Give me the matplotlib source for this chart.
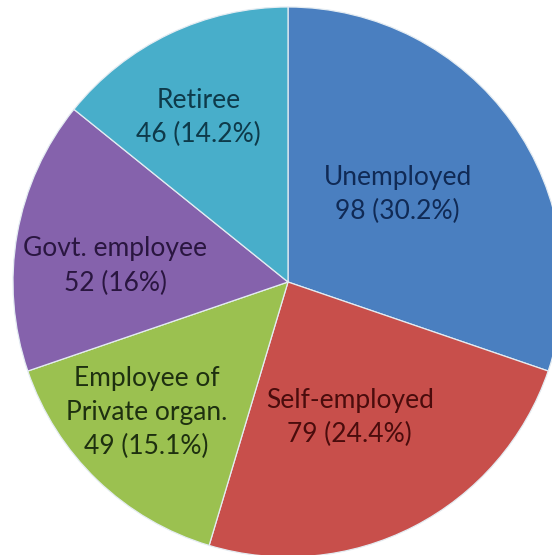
import matplotlib

matplotlib.use("Agg")

import matplotlib.pyplot as plt
import numpy as np

categories = [
    "Unemployed",
    "Self-employed",
    "Employee of\nPrivate organ.",
    "Govt. employee",
    "Retiree",
]
counts = [98, 79, 49, 52, 46]
percent_labels = ["30.2%", "24.4%", "15.1%", "16%", "14.2%"]

slice_colors = ["#4A7FC0", "#C84F4B", "#9BC150", "#8562AC", "#48AECA"]
text_colors = ["#102A55", "#4A0C0C", "#1E3010", "#2A1640", "#0E3A4A"]

# label placement: fraction of radius, angle offset from slice middle (deg)
label_radius = [0.51, 0.54, 0.70, 0.63, 0.68]
label_shift = [3.0, -2.7, -3.4, 4.7, 3.0]

width_px, height_px = 552, 555
center_px = (288, 282)
radius_px = 275

figure = plt.figure(figsize=(width_px / 100, height_px / 100), dpi=100)
axis = figure.add_axes([0, 0, 1, 1])

wedges, _ = axis.pie(
    counts,
    colors=slice_colors,
    startangle=90,
    counterclock=False,
    radius=1.0,
    wedgeprops={"edgecolor": "#E4ECF2", "linewidth": 0.9},
)

for wedge, name, count, pct, color, r, shift in zip(
    wedges, categories, counts, percent_labels, text_colors,
    label_radius, label_shift,
):
    mid = np.deg2rad((wedge.theta1 + wedge.theta2) / 2 + shift)
    axis.text(
        r * np.cos(mid),
        r * np.sin(mid),
        f"{name}\n{count} ({pct})",
        ha="center",
        va="center",
        color=color,
        fontsize=19,
        family=["Lato", "DejaVu Sans"],
        linespacing=1.45,
    )

axis.set_xlim(-center_px[0] / radius_px, (width_px - center_px[0]) / radius_px)
axis.set_ylim(-(height_px - center_px[1]) / radius_px, center_px[1] / radius_px)
axis.set_aspect("equal")
axis.axis("off")

figure.savefig("out.png", dpi=100)
plt.close(figure)
